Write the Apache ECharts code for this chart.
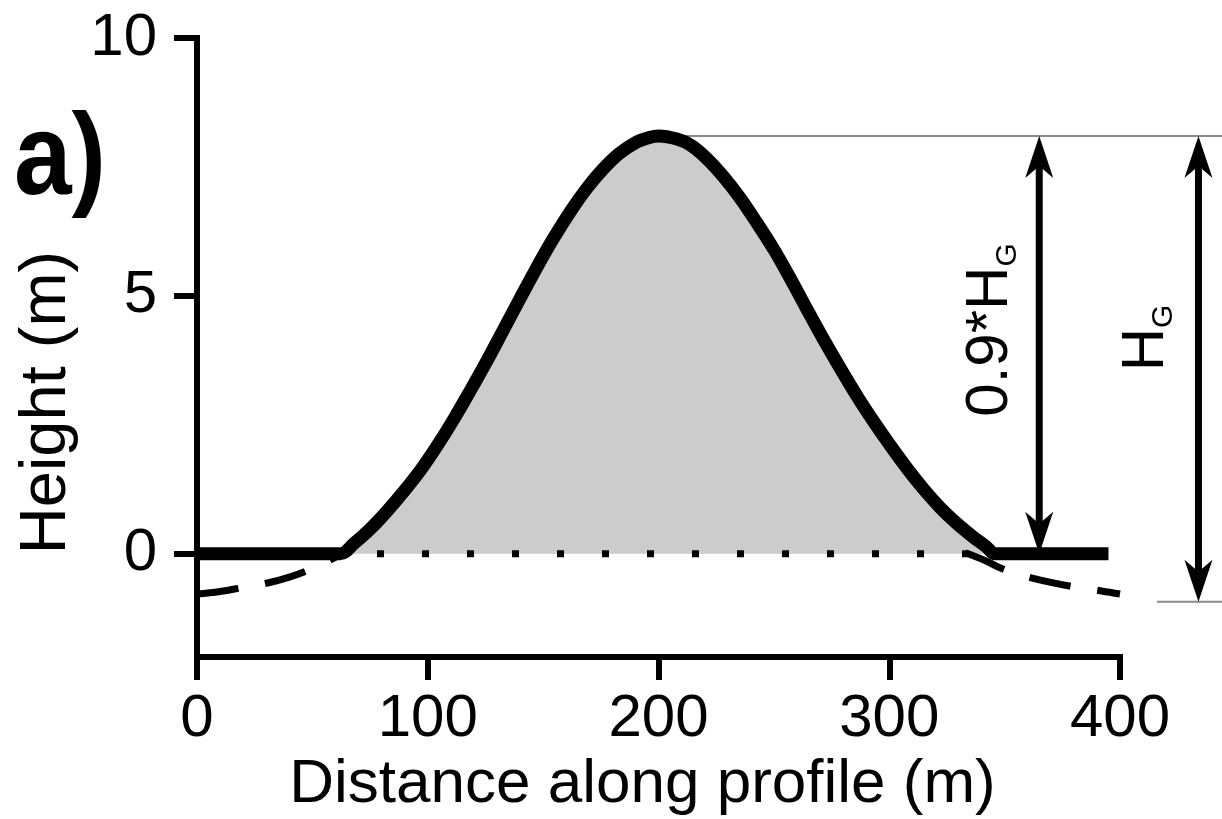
<!DOCTYPE html>
<html>
<head>
<meta charset="utf-8">
<title>Height profile</title>
<script src="https://cdn.jsdelivr.net/npm/echarts@6/dist/echarts.min.js"></script>
<style>
  html, body { margin: 0; padding: 0; background: #fff; }
  #chart { width: 1222px; height: 819px; }
</style>
</head>
<body>
<div id="chart"></div>
<script>
// Profile of the bump (m): distance along profile and height above the base level
const profileDistance = [0, 62, 68, 75, 82, 90, 97, 104, 111, 118, 126, 133, 140, 147, 154, 162, 169, 176, 183, 190, 196, 200, 208, 214, 221, 228, 235, 242, 250, 257, 264, 271, 279, 286, 293, 300, 308, 315, 322, 329, 336, 342, 346, 395];
const profileHeight   = [0, 0, 0.2, 0.48, 0.81, 1.23, 1.63, 2.09, 2.59, 3.13, 3.77, 4.36, 4.95, 5.53, 6.08, 6.65, 7.09, 7.46, 7.76, 7.97, 8.07, 8.1, 8.04, 7.92, 7.66, 7.32, 6.92, 6.46, 5.9, 5.35, 4.77, 4.2, 3.58, 3.06, 2.58, 2.13, 1.64, 1.25, 0.9, 0.6, 0.34, 0.14, 0, 0];

// Gaussian tails continuing below the zero level (dashed)
const tailLeftDistance  = [0, 10, 19, 31, 40, 48, 55, 61, 66, 71];
const tailLeftHeight    = [-0.78, -0.73, -0.66, -0.56, -0.45, -0.32, -0.18, -0.04, 0.1, 0.3];
const tailRightDistance = [333, 342, 349, 362, 380, 392, 400];
const tailRightHeight   = [0.02, -0.14, -0.29, -0.47, -0.64, -0.72, -0.78];

// Dotted zero level under the bump
const zeroLevelDistance = [78, 334];
const zeroLevel = 0;

// Total height H_G and 0.9*H_G dimension arrows
const peakHeight = 8.1;
const baseHeight = -0.93;
const arrowDistance = [365, 434];
const arrowLow  = [0, baseHeight];
const arrowHigh = [peakHeight, peakHeight];
// Thin guides marking the peak and the base level
const guideFrom  = [200, 416];
const guideTo    = [445, 445];
const guideLevel = [peakHeight, baseHeight];

// Axis ticks
const xTicks = [0, 100, 200, 300, 400];
const yTicks = [0, 5, 10];

const FONT = '"Liberation Sans", Arial, Helvetica, sans-serif';
const zip = (xs, ys) => xs.map((x, i) => [x, ys[i]]);
const profileData = zip(profileDistance, profileHeight);

const chart = echarts.init(document.getElementById('chart'), null, { renderer: 'canvas' });

const axisStroke = { color: '#000', width: 6, cap: 'square' };

function renderArrow(params, api) {
  const x = api.value(0);
  const lo = api.coord([x, api.value(1)]);
  const hi = api.coord([x, api.value(2)]);
  const cx = hi[0];
  const headLen = 42, headHalf = 14, notch = 30;
  const style = { fill: '#000' };
  return {
    type: 'group',
    children: [
      { type: 'line', shape: { x1: cx, y1: hi[1] + notch, x2: cx, y2: lo[1] - notch },
        style: { stroke: '#000', lineWidth: 7 } },
      { type: 'polygon', shape: { points: [[cx, hi[1]], [cx - headHalf, hi[1] + headLen], [cx, hi[1] + notch], [cx + headHalf, hi[1] + headLen]] }, style },
      { type: 'polygon', shape: { points: [[cx, lo[1]], [cx - headHalf, lo[1] - headLen], [cx, lo[1] - notch], [cx + headHalf, lo[1] - headLen]] }, style }
    ]
  };
}

function renderGuide(params, api) {
  const p0 = api.coord([api.value(0), api.value(2)]);
  const p1 = api.coord([api.value(1), api.value(2)]);
  return {
    type: 'line',
    shape: { x1: p0[0], y1: p0[1], x2: p1[0], y2: p1[1] },
    style: { stroke: '#8a8a8a', lineWidth: 2 }
  };
}

const option = {
  animation: false,
  backgroundColor: '#fff',
  grid: { left: 197, right: 102, top: 38, bottom: 162, containLabel: false, outerBoundsMode: 'none' },
  xAxis: {
    type: 'value', min: 0, max: 400, interval: 100,
    name: 'Distance along profile (m)', nameLocation: 'middle', nameGap: 91,
    nameTextStyle: { fontFamily: FONT, fontSize: 62, color: '#000', padding: [0, 32, 0, 0] },
    axisLine: { show: true, onZero: false, lineStyle: axisStroke },
    axisTick: { show: true, length: 23, lineStyle: { color: '#000', width: 6 }, customValues: xTicks },
    axisLabel: { fontFamily: FONT, fontSize: 60, color: '#000', margin: 32, customValues: xTicks },
    splitLine: { show: false }
  },
  yAxis: {
    type: 'value', min: -2, max: 10,
    name: 'Height (m)', nameLocation: 'middle', nameGap: 105, nameRotate: 90,
    nameTextStyle: { fontFamily: FONT, fontSize: 65, color: '#000', padding: [0, 110, 0, 0] },
    axisLine: { show: true, onZero: false, lineStyle: axisStroke },
    axisTick: { show: true, length: 23, lineStyle: { color: '#000', width: 6 }, customValues: yTicks },
    axisLabel: { fontFamily: FONT, fontSize: 60, color: '#000', margin: 40, customValues: yTicks },
    splitLine: { show: false }
  },
  series: [
    { // grey fill between the profile and zero level
      type: 'line', data: profileData, smooth: 0.35, symbol: 'none',
      lineStyle: { width: 0, opacity: 0 }, areaStyle: { color: '#cccccc', opacity: 1, origin: 0 }, z: 1
    },
    { // dotted zero level
      type: 'line', data: zeroLevelDistance.map(d => [d, zeroLevel]), symbol: 'none',
      lineStyle: { color: '#000', width: 7, type: [7, 38], cap: 'butt' }, z: 2
    },
    { // dashed tail, left
      type: 'line', data: zip(tailLeftDistance, tailLeftHeight), smooth: 0.4, symbol: 'none',
      lineStyle: { color: '#000', width: 7, type: [42, 27], cap: 'butt' }, z: 2
    },
    { // dashed tail, right
      type: 'line', data: zip(tailRightDistance, tailRightHeight), smooth: 0.4, symbol: 'none',
      lineStyle: { color: '#000', width: 7, type: [42, 27], cap: 'butt' }, z: 2
    },
    { // thin guides at peak height and base level
      type: 'custom', coordinateSystem: 'cartesian2d', clip: false,
      data: guideFrom.map((d, i) => [d, guideTo[i], guideLevel[i]]),
      renderItem: renderGuide, z: 2
    },
    { // dimension arrows
      type: 'custom', coordinateSystem: 'cartesian2d', clip: false,
      data: arrowDistance.map((d, i) => [d, arrowLow[i], arrowHigh[i]]),
      renderItem: renderArrow, z: 3
    },
    { // profile outline
      type: 'line', data: profileData, smooth: 0.35, symbol: 'none',
      lineStyle: { color: '#000', width: 13, cap: 'butt', join: 'round' }, z: 4
    }
  ],
  graphic: [
    { type: 'text', x: 14, y: 162, scaleX: 0.9,
      style: { text: 'a)', fontFamily: FONT, fontSize: 115, fontWeight: 'bold', fill: '#000', align: 'left', verticalAlign: 'middle' } },
    { type: 'text', x: 990, y: 330, rotation: Math.PI / 2,
      style: { text: '{m|0.9*H}{s|G}', align: 'center', verticalAlign: 'middle', fill: '#000',
        rich: { m: { fontFamily: FONT, fontSize: 60, lineHeight: 66 }, s: { fontFamily: FONT, fontSize: 30, lineHeight: 40, verticalAlign: 'bottom' } } } },
    { type: 'text', x: 1146, y: 338, rotation: Math.PI / 2,
      style: { text: '{m|H}{s|G}', align: 'center', verticalAlign: 'middle', fill: '#000',
        rich: { m: { fontFamily: FONT, fontSize: 60, lineHeight: 66 }, s: { fontFamily: FONT, fontSize: 30, lineHeight: 40, verticalAlign: 'bottom' } } } }
  ]
};

chart.setOption(option);
</script>
</body>
</html>
